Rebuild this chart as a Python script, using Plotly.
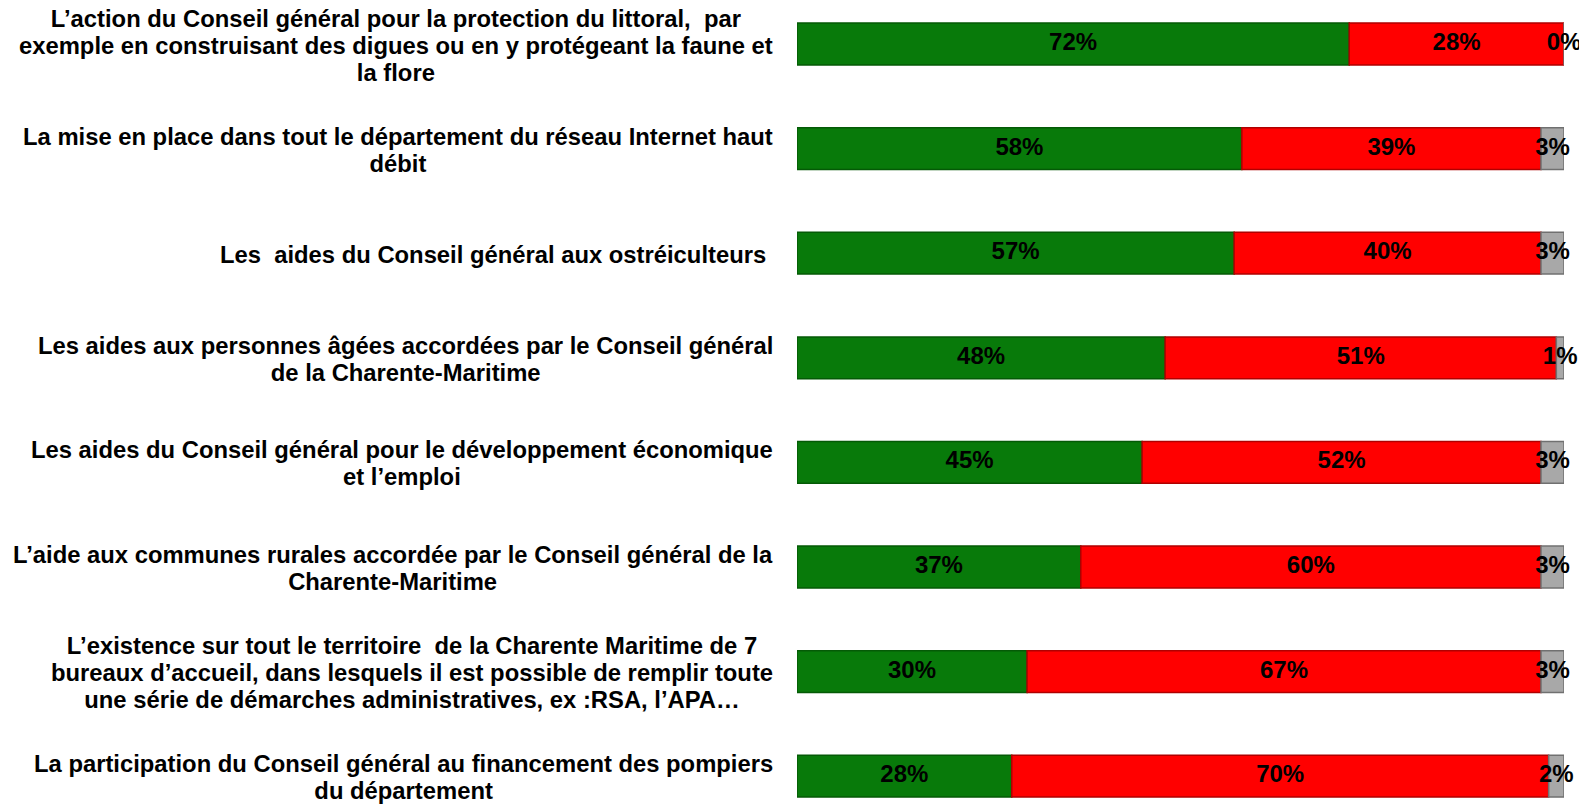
import plotly.graph_objects as go

categories = [
    "L’action du Conseil général pour la protection du littoral,  par<br>exemple en construisant des digues ou en y protégeant la faune et<br>la flore",
    "La mise en place dans tout le département du réseau Internet haut<br>débit",
    "Les  aides du Conseil général aux ostréiculteurs ",
    "Les aides aux personnes âgées accordées par le Conseil général<br>de la Charente-Maritime",
    "Les aides du Conseil général pour le développement économique<br>et l’emploi",
    "L’aide aux communes rurales accordée par le Conseil général de la<br>Charente-Maritime",
    "L’existence sur tout le territoire  de la Charente Maritime de 7<br>bureaux d’accueil, dans lesquels il est possible de remplir toute<br>une série de démarches administratives, ex :RSA, l’APA…",
    "La participation du Conseil général au financement des pompiers<br>du département",
]
green_vals = [72, 58, 57, 48, 45, 37, 30, 28]
red_vals = [28, 39, 40, 51, 52, 60, 67, 70]
gray_vals = [0, 3, 3, 1, 3, 3, 3, 2]

W, H = 1587, 804
OFF = 8  # page body margin
L, R = 797 - OFF, 23 + OFF
plot_w = W - L - R
pos = list(range(len(categories)))

fig = go.Figure()
series = [
    ("Oui", green_vals, "#087A0A", "#045A06"),
    ("Non", red_vals, "#FF0000", "#B00000"),
    ("NSP", gray_vals, "#A8A8A8", "#707070"),
]
base = [0] * len(pos)
for name, vals, col, lc in series:
    fig.add_trace(go.Bar(
        y=pos, x=vals, base=base, orientation="h", name=name,
        marker=dict(color=col, line=dict(color=lc, width=1.5)),
        width=0.40, showlegend=False, hoverinfo="skip",
    ))
    centers = [b + v / 2 for b, v in zip(base, vals)]
    fig.add_trace(go.Scatter(
        y=pos, x=centers, mode="text", text=[f"<b>{v}%</b>" for v in vals],
        textposition="middle center",
        textfont=dict(family="Liberation Sans, Arial", size=24, color="#000000"),
        showlegend=False, hoverinfo="skip", cliponaxis=False,
    ))
    base = [b + v for b, v in zip(base, vals)]

LABEL_PX = 23.8
LINE_PX = 27
for i, c in enumerate(categories):
    lines = c.split("<br>")
    txt = "<br>".join(f"<span style='font-size:{LABEL_PX}px'><b>{ln}</b></span>" for ln in lines)
    fig.add_annotation(
        x=(775 - OFF - L) / plot_w, xref="paper", y=i, yref="y",
        text=txt, showarrow=False, xanchor="right", yanchor="middle",
        align="center", yshift=-1,
        font=dict(family="Liberation Sans, Arial", size=LINE_PX / 1.3, color="#000000"),
    )

row_px = 104.6
first_px = 44 - OFF
fig.update_layout(
    width=W, height=H,
    margin=dict(l=L, r=R, t=0, b=0, pad=0),
    plot_bgcolor="white", paper_bgcolor="white",
    barmode="overlay",
    xaxis=dict(range=[0, 100], visible=False, fixedrange=True),
    yaxis=dict(range=[(H - first_px) / row_px, -first_px / row_px], visible=False, fixedrange=True),
)
fig.write_html("out.html")
